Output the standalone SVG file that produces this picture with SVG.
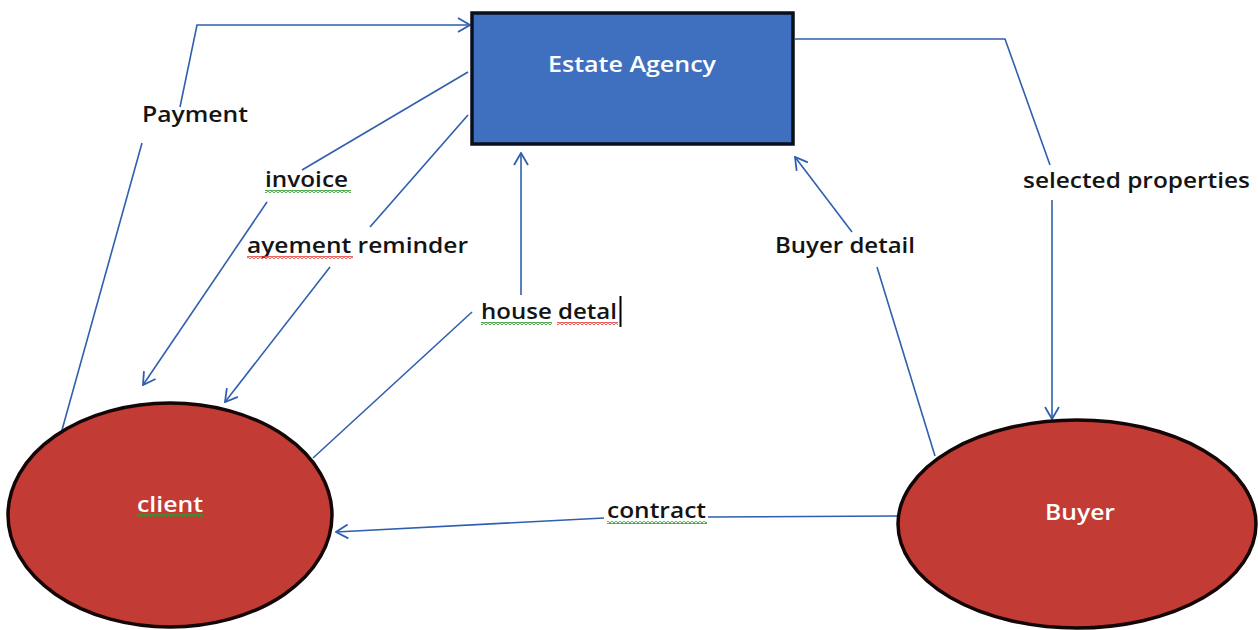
<svg xmlns="http://www.w3.org/2000/svg" width="1258" height="630" viewBox="0 0 1258 630">
  <style>
    .conn { fill: none; stroke: #2f5fae; stroke-width: 1.6; }
    .lbl { font-family: "Open Sans", "Liberation Sans", sans-serif; font-size: 22px; fill: #141414; font-weight: 600; }
    .wlbl { font-family: "Open Sans", "Liberation Sans", sans-serif; font-size: 22px; fill: #ffffff; font-weight: 600; }
    .node-rect { fill: #3f70bf; stroke: #0a0f1e; stroke-width: 3.5; }
    .node-ell { fill: #c23b34; stroke: #140606; stroke-width: 3.5; }
  </style>
  <defs>
    <marker id="arr" markerUnits="userSpaceOnUse" markerWidth="14" markerHeight="16" viewBox="0 0 14 16" refX="13" refY="8" orient="auto">
      <path d="M1,1 L13,8 L1,15" fill="none" stroke="#2f5fae" stroke-width="1.8"/>
    </marker>
    <pattern id="wavyG" width="4" height="3" patternUnits="userSpaceOnUse">
      <path d="M0,2.5 L2,0.5 L4,2.5" fill="none" stroke="#2f9a2f" stroke-width="1.2"/>
    </pattern>
    <pattern id="wavyR" width="4" height="3" patternUnits="userSpaceOnUse">
      <path d="M0,2.5 L2,0.5 L4,2.5" fill="none" stroke="#e0403a" stroke-width="1.2"/>
    </pattern>
  </defs>

  <g id="connectors">
    <!-- Payment: client -> Estate Agency -->
    <line class="conn" x1="62" y1="430" x2="142" y2="143"/>
    <polyline class="conn" points="180,107 197,25 470,25" marker-end="url(#arr)"/>
    <!-- invoice: Estate Agency -> client -->
    <line class="conn" x1="468" y1="72" x2="302" y2="170"/>
    <line class="conn" x1="267" y1="202" x2="143" y2="385" marker-end="url(#arr)"/>
    <!-- payment reminder: Estate Agency -> client -->
    <line class="conn" x1="468" y1="115" x2="370" y2="227"/>
    <line class="conn" x1="330" y1="267" x2="225" y2="402" marker-end="url(#arr)"/>
    <!-- house detail: client -> Estate Agency -->
    <line class="conn" x1="313" y1="458" x2="472" y2="312"/>
    <line class="conn" x1="521" y1="295" x2="521" y2="153" marker-end="url(#arr)"/>
    <!-- selected properties: Estate Agency -> Buyer -->
    <polyline class="conn" points="795,39 1005,39 1050,165"/>
    <line class="conn" x1="1052" y1="200" x2="1052" y2="419" marker-end="url(#arr)"/>
    <!-- Buyer detail: Buyer -> Estate Agency -->
    <line class="conn" x1="935" y1="456" x2="877" y2="267"/>
    <line class="conn" x1="852" y1="232" x2="795" y2="157" marker-end="url(#arr)"/>
    <!-- contract: Buyer -> client -->
    <line class="conn" x1="897" y1="516" x2="708" y2="517"/>
    <line class="conn" x1="604" y1="518" x2="336" y2="532" marker-end="url(#arr)"/>
  </g>

  <g id="estate-agency">
    <rect class="node-rect" x="472" y="13" width="321" height="131"/>
    <text class="wlbl" x="632" y="72" text-anchor="middle" textLength="168" lengthAdjust="spacingAndGlyphs">Estate Agency</text>
  </g>

  <g id="client">
    <ellipse class="node-ell" cx="170" cy="515" rx="162" ry="112"/>
    <text class="wlbl" x="170" y="512" text-anchor="middle" textLength="66" lengthAdjust="spacingAndGlyphs">client</text>
    <rect x="137" y="514" width="66" height="3" fill="url(#wavyG)"/>
  </g>

  <g id="buyer">
    <ellipse class="node-ell" cx="1077" cy="524" rx="179" ry="104"/>
    <text class="wlbl" x="1080" y="520" text-anchor="middle" textLength="70" lengthAdjust="spacingAndGlyphs">Buyer</text>
  </g>

  <g id="labels">
    <text class="lbl" x="142" y="122" textLength="106" lengthAdjust="spacingAndGlyphs">Payment</text>

    <text class="lbl" x="265" y="187" textLength="83" lengthAdjust="spacingAndGlyphs">invoice</text>
    <rect x="265" y="190" width="86" height="3" fill="url(#wavyG)"/>

    <text class="lbl" x="247" y="253" textLength="221" lengthAdjust="spacingAndGlyphs">ayement reminder</text>
    <rect x="247" y="256" width="106" height="3" fill="url(#wavyR)"/>

    <text class="lbl" x="481" y="319" textLength="136" lengthAdjust="spacingAndGlyphs">house detal</text>
    <rect x="481" y="322" width="71" height="3" fill="url(#wavyG)"/>
    <rect x="557" y="322" width="61" height="3" fill="url(#wavyR)"/>
    <line x1="620.5" y1="296" x2="620.5" y2="327" stroke="#000" stroke-width="2"/>

    <text class="lbl" x="775" y="253" textLength="140" lengthAdjust="spacingAndGlyphs">Buyer detail</text>

    <text class="lbl" x="1023" y="188" textLength="227" lengthAdjust="spacingAndGlyphs">selected properties</text>

    <text class="lbl" x="607" y="518" textLength="99" lengthAdjust="spacingAndGlyphs">contract</text>
    <rect x="607" y="521" width="100" height="3" fill="url(#wavyG)"/>
  </g>
</svg>
